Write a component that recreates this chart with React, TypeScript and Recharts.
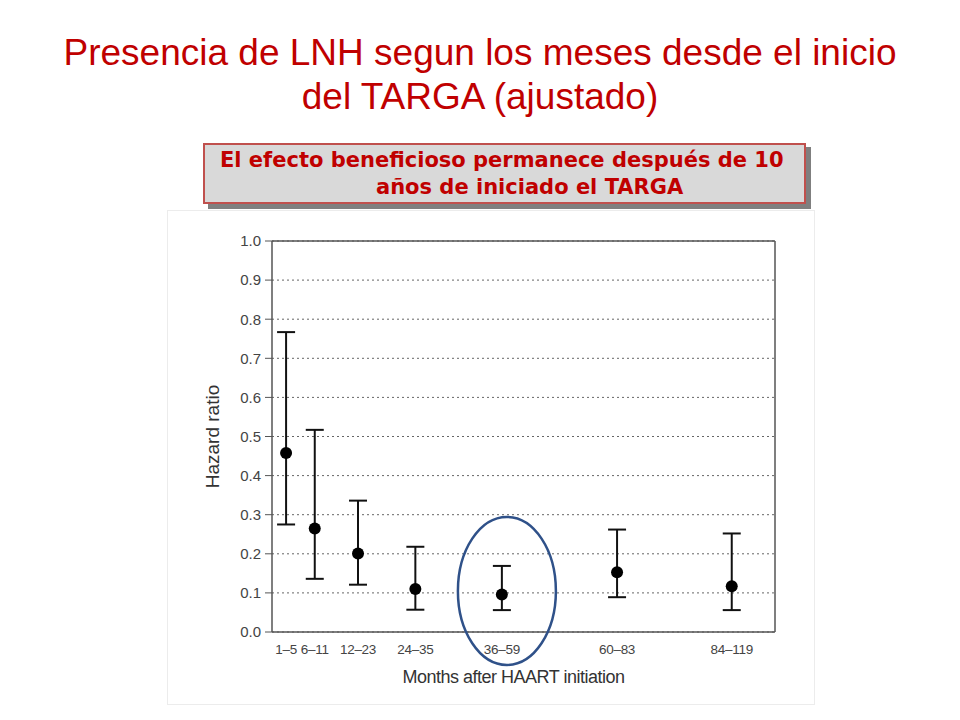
import {
  ScatterChart,
  Scatter,
  XAxis,
  YAxis,
  CartesianGrid,
  ErrorBar,
  ReferenceDot,
  ReferenceLine,
} from 'recharts';

// month groups after HAART start
const periods = ['1–5', '6–11', '12–23', '24–35', '36–59', '60–83', '84–119'];
// horizontal placement of each group on a 0-100 axis, as in the original figure
const positions = [2.8, 8.5, 17.1, 28.5, 45.7, 68.6, 91.4];
const hazard = [0.458, 0.265, 0.201, 0.11, 0.096, 0.153, 0.117];
const lower = [0.275, 0.136, 0.121, 0.057, 0.056, 0.089, 0.056];
const upper = [0.767, 0.517, 0.336, 0.218, 0.169, 0.262, 0.252];
const yTicks = [0, 0.1, 0.2, 0.3, 0.4, 0.5, 0.6, 0.7, 0.8, 0.9, 1.0];

const data = periods.map((p, i) => ({
  period: p,
  x: positions[i],
  hr: hazard[i],
  ci: [hazard[i] - lower[i], upper[i] - hazard[i]],
}));

const RED = '#c00000';
const AXIS = '#555';

function Ellipse(props: any) {
  const { cx, cy } = props;
  if (cx == null || cy == null) return null;
  return <ellipse cx={cx} cy={cy} rx={49} ry={74} fill="none" stroke="#2f5189" strokeWidth={2.5} />;
}

export default function App() {
  return (
    <div style={{ position: 'absolute', left: 0, top: 0, width: 960, height: 720, background: '#fff', fontFamily: '"Liberation Sans", Arial, sans-serif' }}>
      <div style={{ position: 'absolute', left: 0, top: 31, width: 960, textAlign: 'center', color: RED, fontSize: 37, lineHeight: '44px' }}>
        Presencia de LNH segun los meses desde el inicio
        <br />
        del TARGA (ajustado)
      </div>

      <div style={{ position: 'absolute', left: 208, top: 147, width: 603, height: 62, background: '#7f7f7f' }} />
      <div
        style={{
          position: 'absolute', left: 203, top: 143, width: 603, height: 61, boxSizing: 'border-box',
          background: '#d9d9d9', border: '2px solid #c0504d', color: RED,
          fontFamily: 'DejaVu Sans', fontWeight: 'bold', fontSize: 21, lineHeight: '27px',
          paddingTop: 2, whiteSpace: 'nowrap',
        }}
      >
        <div style={{ paddingLeft: 15 }}>El efecto beneficioso permanece después de 10</div>
        <div style={{ paddingLeft: 171 }}>años de iniciado el TARGA</div>
      </div>

      <div style={{ position: 'absolute', left: 167, top: 210, width: 648, height: 495, boxSizing: 'border-box', border: '1px solid #ececec' }}>
        <ScatterChart width={646} height={493} margin={{ top: 30, right: 39, bottom: 0, left: 40 }}>
          <CartesianGrid horizontal vertical={false} stroke="#666" strokeDasharray="2 3" />
          <XAxis
            type="number"
            dataKey="x"
            domain={[0, 100]}
            ticks={positions}
            tickFormatter={(v: number) => periods[positions.indexOf(v)] ?? ''}
            tickLine={false}
            axisLine={{ stroke: AXIS, strokeWidth: 1.5 }}
            tick={{ fill: '#444', fontSize: 13.5, letterSpacing: -0.3 }}
            tickMargin={6}
            interval={0}
            height={72}
            label={{ value: 'Months after HAART initiation', position: 'insideBottom', offset: 21, dx: -10, fill: '#333', fontSize: 18, letterSpacing: -0.5 }}
          />
          <YAxis
            type="number"
            dataKey="hr"
            domain={[0, 1]}
            ticks={yTicks}
            tickFormatter={(v: number) => v.toFixed(1)}
            width={64}
            tickSize={7}
            tickLine={{ stroke: AXIS }}
            axisLine={{ stroke: AXIS, strokeWidth: 1.5 }}
            tick={{ fill: '#444', fontSize: 15 }}
            tickMargin={4}
            label={{ value: 'Hazard ratio', angle: -90, position: 'insideLeft', offset: 4, fill: '#333', fontSize: 19, style: { textAnchor: 'middle' } }}
          />
          <ReferenceLine y={1} stroke={AXIS} strokeWidth={1.5} />
          <ReferenceLine x={100} stroke={AXIS} strokeWidth={1.5} />
          <Scatter data={data} fill="#000" isAnimationActive={false} shape={(p: any) => <circle cx={p.cx} cy={p.cy} r={6} fill="#000" />}>
            <ErrorBar dataKey="ci" direction="y" width={9} stroke="#111" strokeWidth={2} isAnimationActive={false} />
          </Scatter>
          <ReferenceDot x={46.7} y={0.105} ifOverflow="visible" shape={Ellipse} />
        </ScatterChart>
      </div>
    </div>
  );
}
